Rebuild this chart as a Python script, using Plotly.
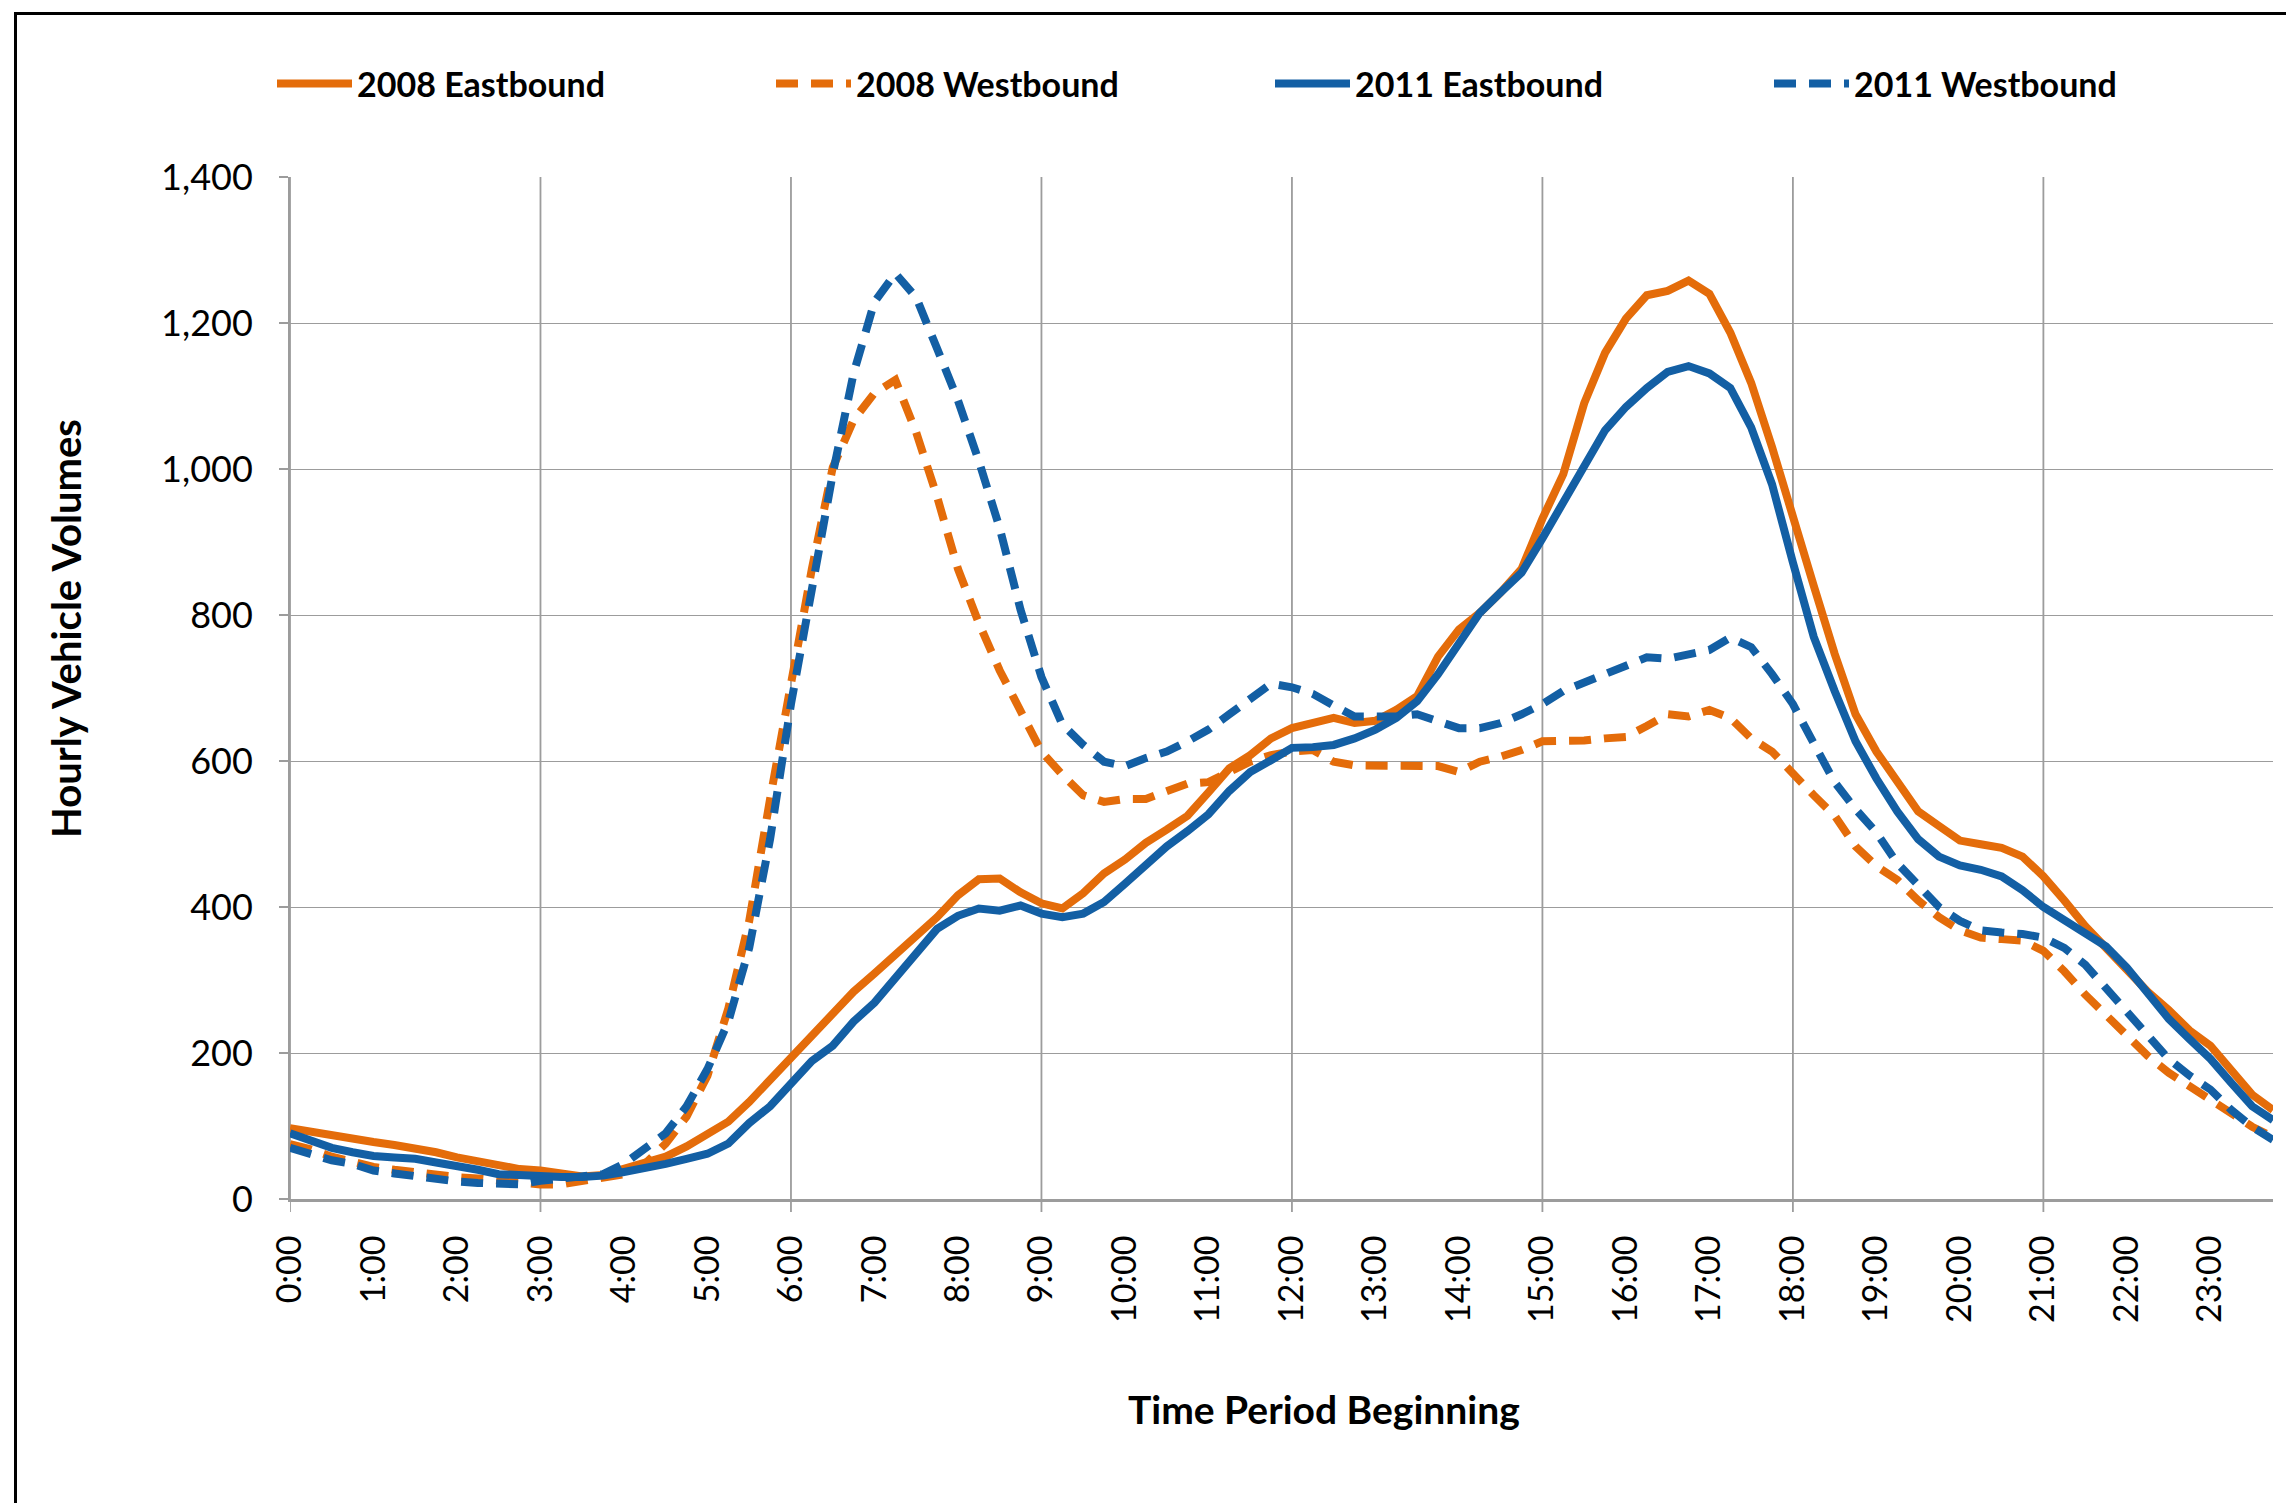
import plotly.graph_objects as go

# 15-minute categories
times = [f"{h}:{m:02d}" for h in range(24) for m in (0, 15, 30, 45)]
hour_labels = [f"{h}:00" for h in range(24)]
grid_labels = [f"{h}:00" for h in range(0, 24, 3)]

eb_2008 = [97, 92, 86, 82, 78, 74, 70, 64, 57, 51, 45, 41, 39, 36, 31, 33,
           41, 48, 58, 72, 90, 106, 133, 164, 192, 222, 256, 284, 309, 335, 360, 386,
           416, 438, 439, 420, 405, 398, 419, 446, 465, 488, 506, 525, 557, 590, 608, 631,
           645, 652, 659, 652, 655, 670, 689, 743, 780, 803, 831, 863, 932, 993, 1090, 1159,
           1206, 1238, 1244, 1258, 1240, 1187, 1118, 1030, 932, 840, 747, 664, 613, 571, 531, 511,
           491, 486, 481, 469, 442, 409, 374, 344, 312, 284, 259, 231, 210, 176, 143, 122]

wb_2008 = [75, 68, 58, 50, 44, 40, 36, 33, 30, 28, 25, 23, 20, 20, 25, 30,
           34, 48, 76, 113, 169, 261, 381, 548, 706, 863, 1002, 1067, 1104, 1122, 1050, 962,
           863, 789, 724, 669, 613, 581, 553, 544, 548, 548, 559, 569, 571, 585, 599, 608,
           613, 615, 599, 594, 594, 593, 594, 593, 585, 599, 606, 615, 627, 627, 628, 631,
           633, 648, 664, 661, 670, 659, 631, 613, 581, 553, 525, 483, 456, 437, 409, 386,
           368, 358, 356, 354, 340, 312, 280, 252, 224, 196, 173, 155, 136, 118, 99, 85]

eb_2011 = [90, 80, 70, 64, 59, 57, 55, 50, 46, 40, 34, 32, 31, 30, 30, 32,
           37, 42, 48, 55, 62, 76, 104, 127, 159, 189, 210, 243, 269, 303, 340, 370,
           388, 398, 395, 402, 391, 386, 391, 407, 432, 457, 483, 504, 527, 559, 585, 601,
           618, 619, 622, 631, 643, 659, 682, 719, 763, 803, 831, 858, 905, 956, 1004, 1053,
           1085, 1111, 1133, 1141, 1131, 1111, 1057, 979, 872, 770, 696, 627, 576, 531, 493, 469,
           457, 451, 442, 423, 400, 381, 363, 346, 317, 281, 247, 219, 192, 159, 127, 108]

wb_2011 = [70, 62, 53, 48, 39, 35, 31, 28, 24, 22, 20, 20, 25, 28, 30, 34,
           48, 68, 90, 127, 178, 243, 344, 493, 678, 835, 993, 1131, 1229, 1268, 1235, 1165,
           1094, 1011, 919, 807, 715, 650, 622, 599, 593, 604, 613, 627, 643, 664, 685, 706,
           701, 692, 676, 661, 661, 661, 664, 655, 645, 645, 652, 664, 678, 696, 708, 719,
           731, 742, 740, 747, 752, 769, 756, 719, 678, 624, 571, 534, 502, 460, 428, 400,
           381, 368, 365, 363, 358, 344, 321, 289, 256, 224, 192, 169, 150, 122, 99, 81]

ORANGE = "#E46C0A"
BLUE = "#135FA4"
GRID = "#9C9C9C"
FONT = "Lato"
DASH = "22px,13px"

series = [
    ("2008 Eastbound", eb_2008, ORANGE, "solid"),
    ("2008 Westbound", wb_2008, ORANGE, DASH),
    ("2011 Eastbound", eb_2011, BLUE, "solid"),
    ("2011 Westbound", wb_2011, BLUE, DASH),
]

fig = go.Figure()
for name, vals, color, dash in series:
    fig.add_trace(go.Scatter(x=times, y=vals, name=name, mode="lines",
                             line=dict(color=color, width=8, dash=dash)))

W, H = 2294, 1503
OFF = 8  # page body margin
L, R, T, B = 282, 29, 169, 312
pw, ph = W - L - R, H - T - B

def px(xs):
    return (xs - OFF - L) / pw

def py(ys):
    return (H - B - (ys - OFF)) / ph

shapes = []
for g in grid_labels:
    shapes.append(dict(type="line", xref="x", yref="paper", x0=g, x1=g,
                       y0=-13 / ph, y1=1, line=dict(color=GRID, width=1.8), layer="below"))
# outer chart border (left and top visible)
shapes.append(dict(type="path", xref="paper", yref="paper",
                   path=f"M {px(15.5)} {py(H + 20)} L {px(15.5)} {py(13.5)} L {px(W + 20)} {py(13.5)}",
                   line=dict(color="black", width=3)))

fig.update_layout(
    width=W, height=H,
    margin=dict(l=L, r=R, t=T, b=B),
    paper_bgcolor="white", plot_bgcolor="white",
    font=dict(family=FONT, color="black", size=36),
    showlegend=True,
    legend=dict(orientation="h", x=px(272), y=py(84), xanchor="left", yanchor="middle",
                font=dict(family=FONT, size=34, weight="bold"),
                entrywidth=409, entrywidthmode="pixels", itemwidth=75,
                bgcolor="rgba(0,0,0,0)"),
    xaxis=dict(type="category", categoryorder="array", categoryarray=times,
               range=[0, len(times) - 1], tickmode="array", tickvals=hour_labels,
               ticktext=hour_labels, tickangle=-90, ticks="", showgrid=False,
               showline=True, linecolor=GRID, linewidth=3, ticklabelstandoff=20,
               tickfont=dict(size=34), zeroline=False),
    yaxis=dict(range=[0, 1400], dtick=200, tickformat=",", showgrid=True,
               gridcolor=GRID, gridwidth=1.3, showline=True, linecolor=GRID, linewidth=2,
               ticks="outside", ticklen=9, tickcolor=GRID, tickwidth=2,
               ticklabelstandoff=19, tickfont=dict(size=36), zeroline=False),
    shapes=shapes,
    annotations=[
        dict(text="Hourly Vehicle Volumes", xref="paper", yref="paper", x=px(66), y=py(629),
             textangle=-90, showarrow=False, xanchor="center", yanchor="middle",
             font=dict(family=FONT, size=40, weight="bold")),
        dict(text="Time Period Beginning", xref="paper", yref="paper", x=px(1324), y=py(1409),
             showarrow=False, xanchor="center", yanchor="middle",
             font=dict(family=FONT, size=39, weight="bold")),
    ],
)

fig.write_html("out.html")
